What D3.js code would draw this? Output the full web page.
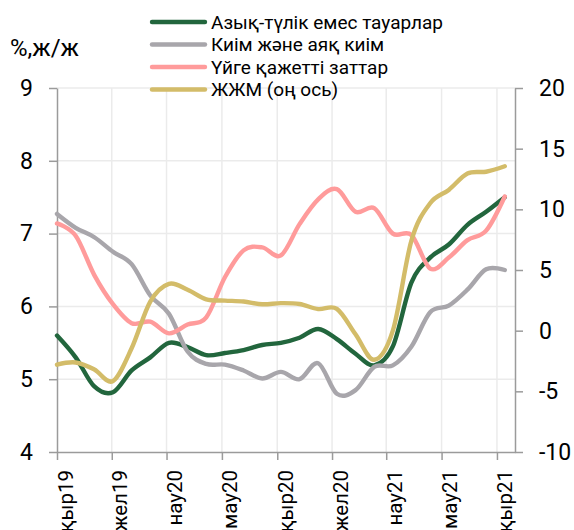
<!DOCTYPE html>
<html>
<head>
<meta charset="utf-8">
<script src="https://cdn.jsdelivr.net/npm/d3@7"></script>
<style>
  body { margin: 0; background: #fff; }
  svg { display: block; font-family: Roboto, "Noto Sans", sans-serif; }
</style>
</head>
<body>
<div id="chart"></div>
<script>
// observation dates (one point roughly every month)
const dates = [
  "2019-09-01", "2019-10-02", "2019-11-02", "2019-12-03", "2020-01-03", "2020-02-03",
  "2020-03-05", "2020-04-05", "2020-05-06", "2020-06-06", "2020-07-07", "2020-08-07",
  "2020-09-07", "2020-10-08", "2020-11-08", "2020-12-09", "2021-01-09", "2021-02-09",
  "2021-03-12", "2021-04-12", "2021-05-13", "2021-06-13", "2021-07-14", "2021-08-14",
  "2021-09-14"
];

const nonFood = [5.6, 5.3, 4.9, 4.82, 5.12, 5.3, 5.5, 5.44, 5.33, 5.36, 5.4, 5.47, 5.5,
  5.57, 5.69, 5.55, 5.35, 5.19, 5.45, 6.33, 6.67, 6.85, 7.12, 7.3, 7.5];
const clothing = [7.27, 7.08, 6.95, 6.75, 6.58, 6.15, 5.9, 5.38, 5.21, 5.2, 5.12, 5.01, 5.1,
  5.0, 5.22, 4.8, 4.85, 5.17, 5.19, 5.45, 5.92, 6.01, 6.23, 6.51, 6.5];
const household = [7.14, 6.97, 6.43, 6.03, 5.77, 5.79, 5.63, 5.75, 5.85, 6.4, 6.77, 6.81, 6.7,
  7.13, 7.47, 7.61, 7.3, 7.35, 7.0, 6.98, 6.52, 6.67, 6.91, 7.04, 7.51];
const gdp = [-2.8, -2.62, -3.2, -4.15, -1.45, 2.4, 3.86, 3.37, 2.58, 2.48, 2.4, 2.18, 2.27,
  2.2, 1.78, 1.8, -0.3, -2.4, 0.0, 7.45, 10.5, 11.6, 12.95, 13.1, 13.55];

const seriesNames = ["Азық-түлік емес тауарлар", "Киім және аяқ киім", "Үйге қажетті заттар", "ЖЖМ (оң ось)"];
const seriesColors = ["#22663d", "#a8a6ab", "#ff9b9b", "#d3bc69"];

const tickDates = ["2019-09-01", "2019-12-01", "2020-03-01", "2020-06-01", "2020-09-01",
  "2020-12-01", "2021-03-01", "2021-06-01", "2021-09-01"];
const tickLabels = ["қыр19", "жел19", "нау20", "мау20", "қыр20", "жел20", "нау21", "мау21", "қыр21"];
const leftTicks = [4, 5, 6, 7, 8, 9];
const rightTicks = [-10, -5, 0, 5, 10, 15, 20];

const W = 574, H = 530;
const plot = { left: 57, right: 515, top: 88, bottom: 452 };
const parse = d3.utcParse("%Y-%m-%d");

const svg = d3.select("#chart").append("svg")
  .attr("width", W)
  .attr("height", H);

const x = d3.scaleUtc()
  .domain([parse("2019-09-01"), parse("2021-10-01")])
  .range([plot.left, plot.right]);
const y = d3.scaleLinear().domain([4, 9]).range([plot.bottom, plot.top]);
const y2 = d3.scaleLinear().domain([-10, 20]).range([plot.bottom, plot.top]);

const axisColor = "#9b9b9b";
const gridColor = "#ebebeb";

// Gridlines
svg.append("g").selectAll("line.h")
  .data(leftTicks.slice(1))
  .enter().append("line")
  .attr("x1", plot.left).attr("x2", plot.right)
  .attr("y1", d => y(d)).attr("y2", d => y(d))
  .attr("stroke", gridColor).attr("stroke-width", 1.5);

svg.append("g").selectAll("line.v")
  .data(tickDates.slice(1))
  .enter().append("line")
  .attr("x1", d => x(parse(d))).attr("x2", d => x(parse(d)))
  .attr("y1", plot.top).attr("y2", plot.bottom)
  .attr("stroke", gridColor).attr("stroke-width", 1.5);

// Axes
function styleAxis(g) {
  g.attr("font-family", null);
  g.select(".domain").attr("stroke", axisColor).attr("stroke-width", 1.5);
  g.selectAll(".tick line").attr("stroke", axisColor).attr("stroke-width", 1.5);
  g.selectAll(".tick text").attr("fill", "#000").attr("font-size", 23);
}

svg.append("g")
  .attr("transform", `translate(${plot.left},0)`)
  .call(d3.axisLeft(y).tickValues(leftTicks).tickFormat(d => String(d))
    .tickSize(8).tickSizeOuter(0).tickPadding(16))
  .call(styleAxis);

svg.append("g")
  .attr("transform", `translate(${plot.right},0)`)
  .call(d3.axisRight(y2).tickValues(rightTicks).tickFormat(d => String(d))
    .tickSize(8).tickSizeOuter(0).tickPadding(16))
  .call(styleAxis);

svg.append("g")
  .attr("transform", `translate(0,${plot.bottom})`)
  .call(d3.axisBottom(x).tickValues(tickDates.map(parse)).tickSize(8).tickSizeOuter(0)
    .tickFormat((d, i) => tickLabels[i]))
  .call(styleAxis)
  .call(g => g.selectAll(".tick text")
    .attr("transform", "rotate(-90)")
    .attr("text-anchor", "end")
    .attr("x", -18)
    .attr("y", 15)
    .attr("dy", 0)
    .attr("font-size", 20.5));

// Title for left axis
svg.append("text")
  .attr("x", 10).attr("y", 56)
  .attr("font-size", 24)
  .text("%,ж/ж");

// Lines
const smooth = d3.curveCardinal.tension(0);
const leftSeries = [nonFood, clothing, household];

leftSeries.forEach((vals, k) => {
  const line = d3.line()
    .x((d, i) => x(parse(dates[i])))
    .y(d => y(d))
    .curve(smooth);
  svg.append("path")
    .datum(vals)
    .attr("fill", "none")
    .attr("stroke", seriesColors[k])
    .attr("stroke-width", 4.4)
    .attr("stroke-linecap", "round")
    .attr("stroke-linejoin", "round")
    .attr("d", line);
});

const gdpLine = d3.line()
  .x((d, i) => x(parse(dates[i])))
  .y(d => y2(d))
  .curve(smooth);
svg.append("path")
  .datum(gdp)
  .attr("fill", "none")
  .attr("stroke", seriesColors[3])
  .attr("stroke-width", 4.4)
  .attr("stroke-linecap", "round")
  .attr("d", gdpLine);

// Legend
const legend = svg.append("g").attr("transform", "translate(152,22)");
seriesNames.forEach((name, i) => {
  const row = legend.append("g").attr("transform", `translate(0,${i * 22.5})`);
  row.append("line")
    .attr("x1", 0).attr("x2", 53)
    .attr("stroke", seriesColors[i])
    .attr("stroke-width", 4.4)
    .attr("stroke-linecap", "round");
  row.append("text")
    .attr("x", 59)
    .attr("dy", "0.35em")
    .attr("font-size", 19)
    .text(name);
});
</script>
</body>
</html>
